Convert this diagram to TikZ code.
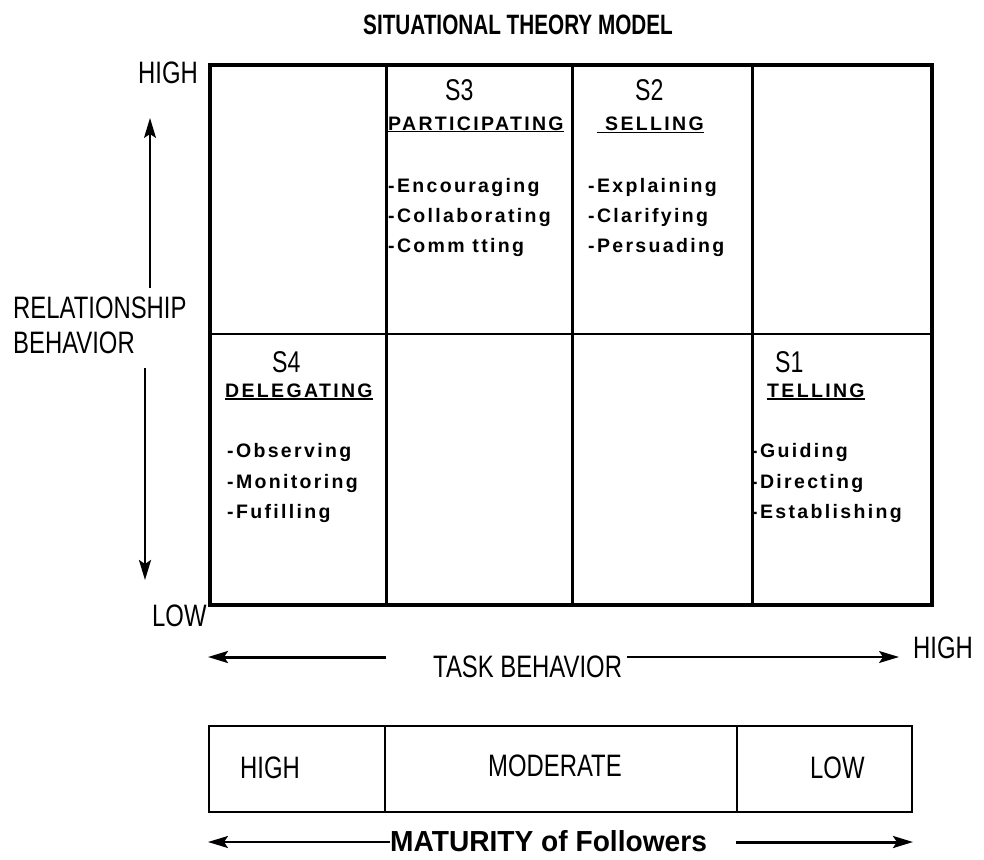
\documentclass[tikz,border=0pt]{standalone}
\usepackage{fontspec}
\setmainfont{Liberation Sans}
\newfontfamily\titlefont[FakeStretch=0.74]{Liberation Sans}
\newfontfamily\labfont[FakeStretch=0.77]{Liberation Sans}
\newfontfamily\cellfont[LetterSpace=12]{Liberation Sans}
\newfontfamily\matfont[FakeStretch=0.97]{Liberation Sans}
\usetikzlibrary{arrows.meta}
\begin{document}
\begin{tikzpicture}[x=1pt,y=-1pt,
  txt/.style={inner sep=0pt, anchor=base west},
  lab/.style={txt, font={\labfont\fontsize{31}{31}\selectfont}},
  ttl/.style={txt, font={\titlefont\bfseries\fontsize{28}{28}\selectfont}},
  sn/.style={txt, font={\labfont\fontsize{30}{30}\selectfont}},
  cell/.style={txt, font={\cellfont\bfseries\fontsize{19.5}{19.5}\selectfont}},
  mat/.style={txt, font={\matfont\bfseries\fontsize{29}{29}\selectfont}},
  ulin/.style={line width=1.8pt},
  arr/.style={-{Stealth[length=20pt,width=12pt,inset=4pt]}},
]
\useasboundingbox[fill=white] (0,0) rectangle (984,859);

% main grid
\draw[line width=4.5pt] (210,65) rectangle (932,605);
\draw[line width=3pt] (386,65) -- (386,605);
\draw[line width=3pt] (572,65) -- (572,605);
\draw[line width=3pt] (752,65) -- (752,605);
\draw[line width=2pt] (210,334) -- (932,334);

% bottom box
\draw[line width=2.5pt] (209,726) rectangle (912,812);
\draw[line width=2.5pt] (385,726) -- (385,812);
\draw[line width=2.5pt] (737,726) -- (737,812);

% texts
\node[ttl] (title) at (363,35) {SITUATIONAL THEORY MODEL};
\node[lab] (hiY) at (138,83) {HIGH};
\node[lab] (loY) at (152,626) {LOW};
\node[lab] (rel) at (13,318) {RELATIONSHIP};
\node[lab] (beh) at (13,353) {BEHAVIOR};
\node[lab] (task) at (433,677) {TASK BEHAVIOR};
\node[lab] (hiX) at (913,658) {HIGH};
\node[lab] (bh) at (240,778) {HIGH};
\node[lab] (bm) at (488,776) {MODERATE};
\node[lab] (bl) at (810,778) {LOW};
\node[mat] (mat) at (390,851) {MATURITY of Followers};

% cells
\node[sn] (s3) at (445,100) {S3};
\node[sn] (s2) at (635,100) {S2};
\node[sn] (s4) at (272,372) {S4};
\node[sn] (s1) at (775,372) {S1};

\node[cell] (h3) at (388,130) {PARTICIPATING};
\node[cell] (h2) at (605,130) {SELLING};
\node[cell] (h4) at (225,397) {DELEGATING};
\node[cell] (h1) at (767,397) {TELLING};
\draw[ulin] ([yshift=-1.5pt]h3.base west) -- ([yshift=-1.5pt]h3.base east);
\draw[ulin] ([xshift=-8pt,yshift=-2.5pt]h2.base west) -- ([yshift=-2.5pt]h2.base east);
\draw[ulin] ([yshift=-2pt]h4.base west) -- ([yshift=-2pt]h4.base east);
\draw[ulin] ([yshift=-2pt]h1.base west) -- ([yshift=-2pt]h1.base east);

\node[cell] (e3a) at (388,192) {-Encouraging};
\node[cell] (e3b) at (388,222) {-Collaborating};
\node[cell] (e3c) at (388,252) {-Comm tting};
\node[cell] (e2a) at (588,192) {-Explaining};
\node[cell] (e2b) at (588,222) {-Clarifying};
\node[cell] (e2c) at (588,252) {-Persuading};
\node[cell] (e4a) at (227,457) {-Observing};
\node[cell] (e4b) at (227,488) {-Monitoring};
\node[cell] (e4c) at (227,518) {-Fufilling};
\node[cell] (e1a) at (751,457) {-Guiding};
\node[cell] (e1b) at (751,488) {-Directing};
\node[cell] (e1c) at (751,518) {-Establishing};

% arrows
\coordinate (upS) at (150,288); \coordinate (upE) at (150,118);
\draw[arr, line width=1.5pt] (upS) -- (upE);
\coordinate (dnS) at (145,368); \coordinate (dnE) at (145,580);
\draw[arr, line width=2.5pt] (dnS) -- (dnE);
\coordinate (tl0) at (386,657); \coordinate (tl1) at (208,657);
\draw[arr, line width=3pt] (tl0) -- (tl1);
\coordinate (tr0) at (627,657); \coordinate (tr1) at (899,657);
\draw[arr, line width=1.5pt] (tr0) -- (tr1);
\coordinate (ml0) at (390,842); \coordinate (ml1) at (208,842);
\draw[arr, line width=2pt] (ml0) -- (ml1);
\coordinate (mr0) at (736,842); \coordinate (mr1) at (913,842);
\draw[arr, line width=3pt] (mr0) -- (mr1);
\end{tikzpicture}
\end{document}
